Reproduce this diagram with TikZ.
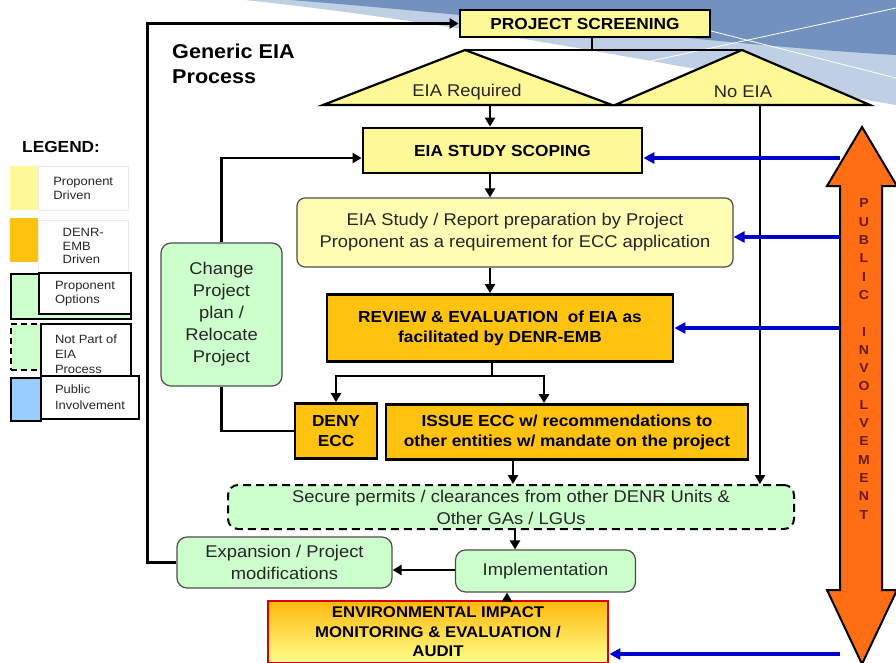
\documentclass[tikz,border=0pt]{standalone}
\usepackage{fontspec}
\setmainfont{Liberation Sans}[FakeStretch=1.08]
\usepackage{xcolor}
\usepackage{tikz}
\usetikzlibrary{calc, positioning, arrows.meta}
\definecolor{propyellow}{RGB}{255,248,150}
\definecolor{reportyellow}{RGB}{255,253,180}
\definecolor{embgold}{RGB}{255,194,14}
\definecolor{optgreen}{RGB}{204,255,204}
\definecolor{publue}{RGB}{153,204,255}
\definecolor{puborange}{RGB}{255,110,20}
\definecolor{arrowblue}{RGB}{0,0,204}
\definecolor{pubtext}{RGB}{110,25,5}
\definecolor{skyA}{RGB}{115,145,190}
\definecolor{skyB}{RGB}{192,208,228}
\tikzset{
    mainbox/.style={rectangle, draw=black, line width=2.8pt, fill=propyellow, align=center, inner sep=0pt, font=\fontsize{16}{20}\selectfont\bfseries},
    embbox/.style={mainbox, fill=embgold},
    prepbox/.style={rectangle, rounded corners=8pt, draw=black!70, line width=1.2pt, fill=reportyellow, align=center, inner sep=0pt, text=black!85, font=\fontsize{17}{22}\selectfont},
    optbox/.style={prepbox, fill=optgreen, rounded corners=10pt},
    extbox/.style={optbox, draw=black, line width=2pt, dash pattern=on 8pt off 5pt},
    auditbox/.style={mainbox, draw=red!85!black, top color=embgold!85!orange, bottom color=yellow!45, font=\fontsize{15.5}{19.5}\selectfont\bfseries},
    tri/.style={draw=black, line width=2.2pt, fill=propyellow, line join=miter},
    tritext/.style={font=\fontsize{17}{20}\selectfont, text=black!85},
    link/.style={draw=black, line width=2.5pt},
    arrow/.style={link, -{Triangle[length=9pt, width=10pt]}},
    pubarrow/.style={draw=arrowblue, line width=3.2pt, -{Triangle[length=11pt, width=11pt]}},
    swatch/.style={rectangle, inner sep=0pt, anchor=north west},
    legbox/.style={rectangle, inner sep=0pt, anchor=north west, align=left, fill=white, text=black!85, font=\fontsize{12}{13.5}\selectfont},
    heading/.style={font=\fontsize{20}{25}\selectfont\bfseries, align=left, anchor=west, inner sep=0pt}
}
\begin{document}
\begin{tikzpicture}[x=1pt, y=-1pt]
        \useasboundingbox (0,0) rectangle (896,662);
        % backdrop
        \fill[skyB] (245,0) -- (896,0) -- (896,105) .. controls (720,75) and (480,25) .. (245,0) -- cycle;
        \fill[skyA] (290,0) -- (896,0) -- (896,55) .. controls (720,45) and (520,18) .. (290,0) -- cycle;
        \draw[white, line width=0.8pt] (600,72) -- (896,8);
        \draw[white, line width=0.8pt] (660,18) -- (896,78);

        % Legend
        \node[heading, font=\fontsize{16}{18}\selectfont\bfseries] (legend) at (22,147) {LEGEND:};
        \node[swatch, fill=propyellow, minimum width=28, minimum height=44] (sw1) at (10,166) {};
        \node[legbox, draw=black!8, minimum width=90, minimum height=44] (lg1) at (38,166) {Proponent\\Driven};
        \node[swatch, fill=embgold, minimum width=28, minimum height=44] (sw2) at (10,218) {};
        \node[legbox, draw=black!8, minimum width=90, minimum height=52] (lg2) at (38,220) {DENR-\\EMB\\Driven};
        \node[swatch, fill=optgreen, draw=black, line width=1.5pt, minimum width=120, minimum height=45] (sw3) at (10,273) {};
        \node[legbox, draw=black, line width=2pt, minimum width=92, minimum height=41] (lg3) at (38,272) {Proponent\\Options};
        \node[swatch, fill=optgreen, draw=black, line width=1.5pt, dash pattern=on 6pt off 4pt, minimum width=30, minimum height=46] (sw4) at (10,323) {};
        \node[legbox, draw=black, line width=2pt, minimum width=90, minimum height=60, font=\fontsize{12}{15}\selectfont] (lg4) at (40,323) {Not Part of\\EIA\\Process};
        \node[swatch, fill=publue, draw=black, line width=1.5pt, minimum width=30, minimum height=43] (sw5) at (10,377) {};
        \node[legbox, draw=black, line width=2pt, minimum width=98, minimum height=43, font=\fontsize{12}{16}\selectfont] (lg5) at (40,375) {Public\\Involvement};

        \node[heading] (gtitle) at (172,64) {Generic EIA\\Process};

        % Screening and the two outcomes
        \node[mainbox, minimum width=250, minimum height=27] (screen) at (585,23.5) {PROJECT SCREENING};
        \coordinate (reqtop) at (465,50);
        \coordinate (notop) at (742,50);
        \coordinate (reqbase) at (490,105);
        \coordinate (nobase) at (760,105);
        \draw[link] (screen.south -| 592,0) -- (reqtop -| 592,0);
        \draw[link] (reqtop) -- (notop);
        \draw[tri] (reqtop) -- (612,105) -- (323,105) -- cycle;
        \draw[tri] (notop) -- (870,105) -- (615,105) -- cycle;
        \node[tritext] (req) at (467,92) {EIA Required};
        \node[tritext] (noeia) at (743,92) {No EIA};

        % EIA track
        \node[mainbox, minimum width=279, minimum height=45] (scope) at (502.5,150.5) {EIA STUDY SCOPING};
        \node[prepbox, minimum width=436, minimum height=69] (report) at (515,232.5) {EIA Study / Report preparation by Project\\Proponent as a requirement for ECC application};
        \node[embbox, minimum width=346, minimum height=67] (review) at (500,328) {REVIEW \& EVALUATION\ \ of EIA as\\facilitated by DENR-EMB};
        \node[embbox, minimum width=82, minimum height=55] (deny) at (336,431) {DENY\\ECC};
        \node[embbox, minimum width=362, minimum height=55] (issue) at (567,432) {ISSUE ECC w/ recommendations to\\other entities w/ mandate on the project};
        \node[optbox, minimum width=121, minimum height=143] (change) at (221.5,314.5) {Change\\Project\\plan /\\Relocate\\Project};

        % after the ECC
        \node[extbox, minimum width=566, minimum height=44] (secure) at (511,507) {Secure permits / clearances from other DENR Units \&\\Other GAs / LGUs};
        \node[optbox, minimum width=180, minimum height=42] (impl) at (545.5,571) {Implementation};
        \node[optbox, minimum width=215, minimum height=51] (expand) at (284.5,562.5) {Expansion / Project\\modifications};
        \node[auditbox, minimum width=340, minimum height=62] (audit) at (438,632) {ENVIRONMENTAL IMPACT\\MONITORING \& EVALUATION /\\AUDIT};

        % flow
        \draw[arrow] (reqbase) -- (reqbase |- scope.north);
        \draw[arrow] (scope.south -| reqbase) -- (reqbase |- report.north);
        \draw[arrow] (report.south -| reqbase) -- (reqbase |- review.north);
        \coordinate (fork) at (492,376);
        \draw[link] (review.south -| fork) -- (fork);
        \draw[arrow] (fork) -| (deny.north);
        \draw[arrow] (fork) -| ([xshift=-23pt]issue.north);
        \draw[arrow] ([xshift=-54pt]issue.south) -- ([xshift=-54pt]issue.south |- secure.north);
        \draw[arrow] (nobase) -- (nobase |- secure.north);
        \draw[arrow] ([xshift=4pt]secure.south) -- ([xshift=4pt]secure.south |- impl.north);
        \draw[arrow] (impl.west |- 0,570) -- (expand.east |- 0,570);
        \draw[arrow] ([xshift=69pt]audit.north) -- ([xshift=69pt]audit.north |- impl.south);

        % loops back
        \coordinate (p1) at (840,158);
        \draw[link] (deny.west) -| (change.south);
        \draw[arrow] (change.north) |- (p1 -| scope.west);
        \draw[arrow] (expand.west) -- ++(-29,0) |- (screen.west);

        % public involvement
        \filldraw[fill=puborange, draw=black, line width=2pt, line join=miter]
            (862,127) -- (897,186) -- (882,186) -- (882,590) -- (897,590) -- (862,664)
            -- (827,590) -- (840,590) -- (840,186) -- (827,186) -- cycle;
        \node[font=\fontsize{13}{18.3}\selectfont\bfseries, text=pubtext, align=center, inner sep=0pt] (pubtxt) at (864,359)
            {P\\U\\B\\L\\I\\C\\\mbox{}\\I\\N\\V\\O\\L\\V\\E\\M\\E\\N\\T};
        \coordinate (p2) at (840,237);
        \coordinate (p3) at (840,328);
        \coordinate (p4) at (840,654);
        \draw[pubarrow] (p1) -- (p1 -| scope.east);
        \draw[pubarrow] (p2) -- (p2 -| report.east);
        \draw[pubarrow] (p3) -- (p3 -| review.east);
        \draw[pubarrow] (p4) -- (p4 -| audit.east);
\end{tikzpicture}
\end{document}
